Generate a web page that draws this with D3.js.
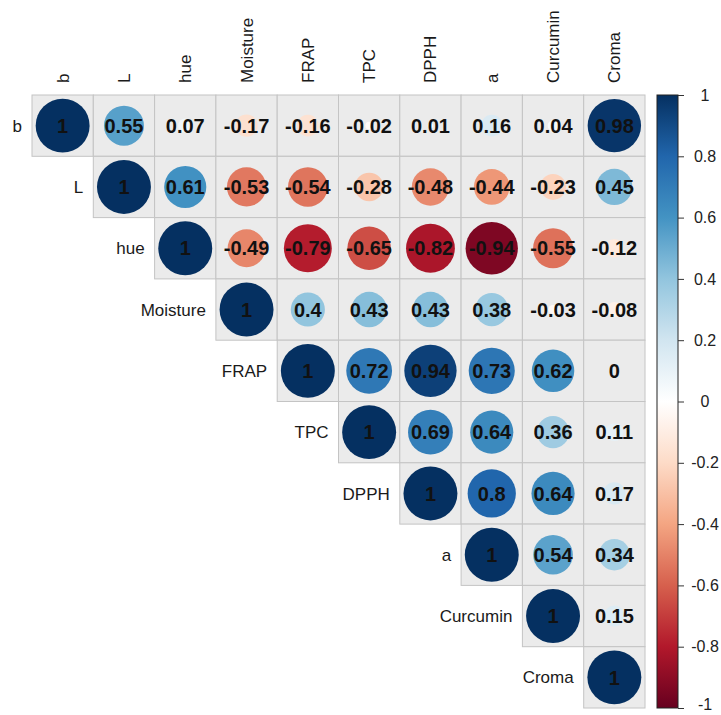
<!DOCTYPE html>
<html>
<head>
<meta charset="utf-8">
<script src="https://cdn.jsdelivr.net/npm/d3@7"></script>
<style>
  html, body { margin: 0; padding: 0; background: #ffffff; }
  svg { display: block; font-family: Arial, "Liberation Sans", sans-serif; }
</style>
</head>
<body>
<svg id="chart" width="721" height="715"></svg>
<script>
// Variables in matrix order
const variables = ["b", "L", "hue", "Moisture", "FRAP", "TPC", "DPPH", "a", "Curcumin", "Croma"];

// Upper-triangle correlation rows (each row starts at the diagonal)
const row_b        = [1, 0.55, 0.07, -0.17, -0.16, -0.02, 0.01, 0.16, 0.04, 0.98];
const row_L        = [1, 0.61, -0.53, -0.54, -0.28, -0.48, -0.44, -0.23, 0.45];
const row_hue      = [1, -0.49, -0.79, -0.65, -0.82, -0.94, -0.55, -0.12];
const row_Moisture = [1, 0.4, 0.43, 0.43, 0.38, -0.03, -0.08];
const row_FRAP     = [1, 0.72, 0.94, 0.73, 0.62, 0];
const row_TPC      = [1, 0.69, 0.64, 0.36, 0.11];
const row_DPPH     = [1, 0.8, 0.64, 0.17];
const row_a        = [1, 0.54, 0.34];
const row_Curcumin = [1, 0.15];
const row_Croma    = [1];

const corrRows = [row_b, row_L, row_hue, row_Moisture, row_FRAP, row_TPC, row_DPPH, row_a, row_Curcumin, row_Croma];

// Legend ticks
const legendTicks = [1, 0.8, 0.6, 0.4, 0.2, 0, -0.2, -0.4, -0.6, -0.8, -1];

// Diverging RdBu palette
const paletteStops = ["#67001F", "#B2182B", "#D6604D", "#F4A582", "#FDDBC7", "#FFFFFF",
                      "#D1E5F0", "#92C5DE", "#4393C3", "#2166AC", "#053061"];

// Flatten to cells
const cells = [];
corrRows.forEach((row, i) => {
  row.forEach((v, k) => {
    cells.push({ row: variables[i], col: variables[i + k], value: v });
  });
});

const svg = d3.select("#chart");

const gridLeft = 32, gridTop = 95, gridSize = 613;

const x = d3.scaleBand().domain(variables).range([gridLeft, gridLeft + gridSize]);
const y = d3.scaleBand().domain(variables).range([gridTop, gridTop + gridSize]);
const bw = x.bandwidth();

const color = d3.scaleLinear()
  .domain(d3.range(paletteStops.length).map(i => -1 + 2 * i / (paletteStops.length - 1)))
  .range(paletteStops)
  .interpolate(d3.interpolateRgb);

const radius = d3.scaleSqrt().domain([0, 1]).range([0, bw * 0.44]);

// Cell backgrounds
svg.append("g").selectAll("rect")
  .data(cells)
  .join("rect")
  .attr("x", d => x(d.col))
  .attr("y", d => y(d.row))
  .attr("width", bw)
  .attr("height", bw)
  .attr("fill", "#ebebeb")
  .attr("stroke", "#c4c4c4")
  .attr("stroke-width", 1);

// Circles
svg.append("g").selectAll("circle")
  .data(cells)
  .join("circle")
  .attr("cx", d => x(d.col) + bw / 2)
  .attr("cy", d => y(d.row) + bw / 2)
  .attr("r", d => radius(Math.abs(d.value)))
  .attr("fill", d => color(d.value));

// Coefficient labels
svg.append("g").selectAll("text")
  .data(cells)
  .join("text")
  .attr("x", d => x(d.col) + bw / 2)
  .attr("y", d => y(d.row) + bw / 2)
  .attr("dy", "0.36em")
  .attr("text-anchor", "middle")
  .attr("font-size", 20)
  .attr("font-weight", "bold")
  .attr("fill", "#111")
  .text(d => String(d.value));

// Column labels (rotated)
svg.append("g").selectAll("text")
  .data(variables)
  .join("text")
  .attr("transform", d => `translate(${x(d) + bw / 2 + 6},${gridTop - 12}) rotate(-90)`)
  .attr("text-anchor", "start")
  .attr("font-size", 17)
  .attr("fill", "#1a1a1a")
  .text(d => d);

// Row labels, placed left of each diagonal cell
svg.append("g").selectAll("text")
  .data(variables)
  .join("text")
  .attr("x", d => x(d) - 10)
  .attr("y", d => y(d) + bw / 2)
  .attr("dy", "0.36em")
  .attr("text-anchor", "end")
  .attr("font-size", 17)
  .attr("fill", "#1a1a1a")
  .text(d => d);

// Colour legend
const barX = 657, barW = 21;
const ly = d3.scaleLinear().domain([1, -1]).range([gridTop, gridTop + gridSize]);

const defs = svg.append("defs");
const grad = defs.append("linearGradient")
  .attr("id", "legendGrad")
  .attr("x1", 0).attr("y1", 0).attr("x2", 0).attr("y2", 1);
paletteStops.slice().reverse().forEach((c, i, arr) => {
  grad.append("stop")
    .attr("offset", (i / (arr.length - 1)) * 100 + "%")
    .attr("stop-color", c);
});

svg.append("rect")
  .attr("x", barX)
  .attr("y", ly(1))
  .attr("width", barW)
  .attr("height", ly(-1) - ly(1))
  .attr("fill", "url(#legendGrad)")
  .attr("stroke", "#222")
  .attr("stroke-width", 1);

const legendAxis = d3.axisRight(ly)
  .tickValues(legendTicks)
  .tickSize(6)
  .tickFormat(d => String(d));

const lg = svg.append("g")
  .attr("transform", `translate(${barX + barW},0)`)
  .call(legendAxis);
lg.select(".domain").remove();
lg.selectAll(".tick line").attr("stroke", "#333");
lg.selectAll(".tick text")
  .attr("x", 27)
  .attr("text-anchor", "middle")
  .attr("font-size", 16)
  .attr("font-family", "Arial, 'Liberation Sans', sans-serif")
  .attr("fill", "#222")
  // keep the bottom label inside the canvas
  .attr("y", d => (d === -1 ? -4 : 0));
</script>
</body>
</html>
